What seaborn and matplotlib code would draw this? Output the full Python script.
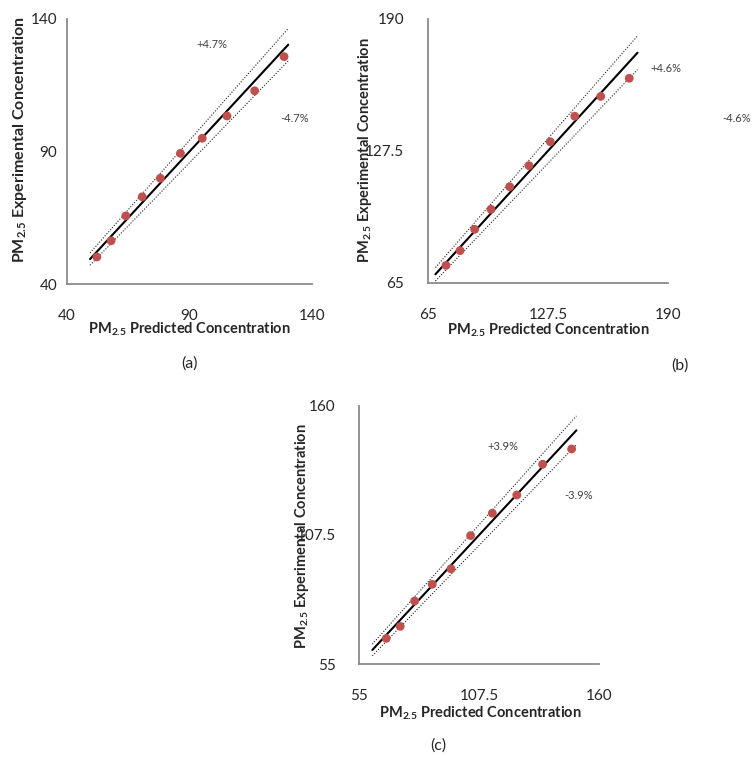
import matplotlib
matplotlib.use("Agg")
import matplotlib.pyplot as plt
import seaborn as sns

# ── DATA ──────────────────────────────────────────────────────
# (a)
a_pred = [52.2, 58.0, 64.0, 70.7, 78.1, 86.3, 95.2, 105.3, 116.6, 128.6]
a_exp = [50.2, 56.3, 65.7, 72.9, 79.9, 89.3, 95.0, 103.4, 112.9, 125.8]
a_fit = [49.4, 130.3]
a_band = 0.047
a_ticks = [40, 90, 140]
a_ticklabels = ["40", "90", "140"]
a_notes = ["+4.7%", "-4.7%"]
a_note_xy = [(99.1, 130.2), (132.7, 102.3)]

# (b)
b_pred = [74.5, 81.8, 89.4, 97.9, 107.6, 117.6, 128.7, 141.4, 154.9, 169.7]
b_exp = [73.2, 80.2, 90.3, 99.8, 110.5, 120.5, 131.8, 143.9, 153.3, 161.9]
b_fit = [69.0, 174.0]
b_band = 0.046
b_ticks = [65, 127.5, 190]
b_ticklabels = ["65", "127.5", "190"]
b_notes = ["+4.6%", "-4.6%"]
b_note_xy = [(188.8, 166.3), (225.5, 142.8)]

# (c)
c_pred = [66.8, 72.9, 79.2, 86.9, 95.1, 103.7, 113.2, 123.9, 135.2, 147.9]
c_exp = [65.4, 70.3, 80.6, 87.4, 93.7, 107.2, 116.3, 123.7, 136.2, 142.4]
c_fit = [60.7, 150.0]
c_band = 0.039
c_ticks = [55, 107.5, 160]
c_ticklabels = ["55", "107.5", "160"]
c_notes = ["+3.9%", "-3.9%"]
c_note_xy = [(117.6, 143.6), (151.1, 123.3)]

XLAB = r"PM$_{\mathbf{2.5}}$ Predicted Concentration"
YLAB = r"PM$_{\mathbf{2.5}}$ Experimental Concentration"

# ── STYLE ─────────────────────────────────────────────────────
sns.set_style("white")
plt.rcParams["font.family"] = ["Lato", "DejaVu Sans"]
plt.rcParams["mathtext.fontset"] = "custom"
plt.rcParams["mathtext.rm"] = "Lato"
plt.rcParams["mathtext.bf"] = "Lato:bold"

W, H = 753, 758
AXIS_GRAY = "#8a8a8a"
RED = "#c0504d"


def px_rect(left, top, right, bottom):
    """Pixel box -> figure fraction rect."""
    return [left / W, 1 - bottom / H, (right - left) / W, (bottom - top) / H]


def panel(ax, pred, exp, fit, band, ticks, ticklabels, notes, note_xy,
          ylab_xy, xlab_xy, ylab_size, ypad):
    lo, hi = fit
    sns.lineplot(x=[lo, hi], y=[lo, hi], ax=ax, color="black", lw=1.5)
    sns.lineplot(x=[lo, hi], y=[lo * (1 + band), hi * (1 + band)], ax=ax,
                 color="#222222", lw=0.8, linestyle=(0, (1, 1.5)))
    sns.lineplot(x=[lo, hi], y=[lo * (1 - band), hi * (1 - band)], ax=ax,
                 color="#222222", lw=0.8, linestyle=(0, (1, 1.5)))
    sns.scatterplot(x=pred, y=exp, ax=ax, color=RED, s=40, edgecolor="none",
                    zorder=3)

    ax.set_xlim(ticks[0], ticks[-1])
    ax.set_ylim(ticks[0], ticks[-1])
    ax.set_xticks(ticks, ticklabels)
    ax.set_yticks(ticks, ticklabels)
    for s in ["top", "right"]:
        ax.spines[s].set_visible(False)
    for s in ["left", "bottom"]:
        ax.spines[s].set_color(AXIS_GRAY)
        ax.spines[s].set_linewidth(1.3)
    ax.tick_params(axis="both", direction="out", length=4, width=1.1,
                   color=AXIS_GRAY, labelsize=11, labelcolor="#262626")
    ax.tick_params(axis="x", pad=14)
    ax.tick_params(axis="y", pad=ypad)

    ax.set_xlabel(XLAB, fontsize=10.5, fontweight="bold")
    ax.set_ylabel(YLAB, fontsize=ylab_size, fontweight="bold")
    ax.xaxis.label.set_va("center")
    ax.yaxis.label.set_va("center")
    ax.xaxis.set_label_coords(*xlab_xy)
    ax.yaxis.set_label_coords(*ylab_xy)

    for t, (x, y) in zip(notes, note_xy):
        ax.text(x, y, t, fontsize=8, color="#404040", ha="center",
                va="center", clip_on=False)


fig = plt.figure(figsize=(W / 100, H / 100), dpi=100)

ax_a = fig.add_axes(px_rect(67, 19, 312, 284))
panel(ax_a, a_pred, a_exp, a_fit, a_band, a_ticks, a_ticklabels, a_notes,
      a_note_xy, (-0.192, 0.543), (0.498, -0.172), 11.5, 3)

ax_b = fig.add_axes(px_rect(427.7, 19, 668.3, 282.7))
panel(ax_b, b_pred, b_exp, b_fit, b_band, b_ticks, b_ticklabels, b_notes,
      b_note_xy, (-0.261, 0.503), (0.5, -0.18), 10.5, 13)

ax_c = fig.add_axes(px_rect(359.3, 405.7, 599.3, 664))
panel(ax_c, c_pred, c_exp, c_fit, c_band, c_ticks, c_ticklabels, c_notes,
      c_note_xy, (-0.239, 0.496), (0.504, -0.192), 10.5, 13)

for lab, (x, y) in zip(["(a)", "(b)", "(c)"], [(190, 364), (680, 366), (438, 746)]):
    fig.text(x / W, 1 - y / H, lab, fontsize=11.5, ha="center", va="center",
             color="#262626")

fig.savefig("out.png", dpi=100)
